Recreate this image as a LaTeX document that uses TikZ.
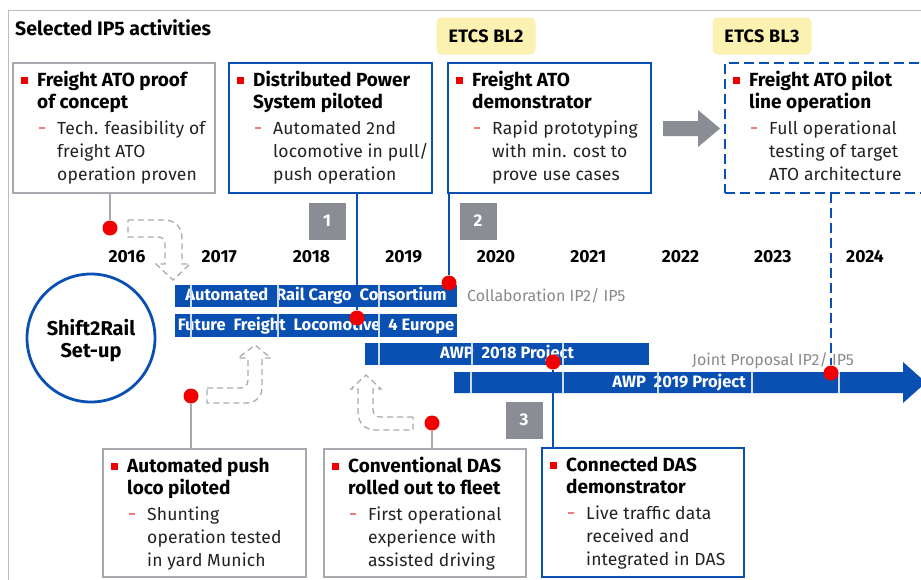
\documentclass[tikz,border=0pt]{standalone}
\usepackage{fontspec}
\setmainfont{Fira Sans}
\usetikzlibrary{calc}

\definecolor{dbblue}{HTML}{0A4FB2}
\definecolor{dotred}{HTML}{F00000}
\definecolor{framegray}{HTML}{B8BCC0}
\definecolor{boxgray}{HTML}{A6AAAE}
\definecolor{numgray}{HTML}{8A8E94}
\definecolor{etcsyellow}{HTML}{FBF1B0}
\definecolor{dashred}{HTML}{F27A7A}
\definecolor{labelgray}{HTML}{8A8A8A}
\definecolor{arrowgray}{HTML}{8A8E94}
\definecolor{ghostgray}{HTML}{A8ACB0}
\definecolor{bodyblack}{HTML}{222222}

\newcommand\fsz[1]{\fontsize{#1pt}{#1pt}\selectfont}

\tikzset{
  boxtitle/.style={anchor=west, inner sep=0pt, font=\fsz{19}\bfseries, text height=17pt, text depth=4pt},
  boxbody/.style={anchor=west, inner sep=0pt, font=\fsz{17.5}\addfontfeatures{LetterSpace=1}, text=bodyblack, text height=16pt, text depth=4pt},
  bulletsq/.style={fill=dotred, minimum size=7pt, inner sep=0pt},
  subdash/.style={draw=dashred, line width=1.3pt},
  actgray/.style={draw=boxgray, line width=1.3pt, fill=white, anchor=north west, inner sep=0pt, outer sep=0pt},
  actblue/.style={draw=dbblue, line width=2.8pt, fill=white, anchor=north west, inner sep=0pt, outer sep=0pt},
  actplan/.style={draw=dbblue, line width=2.8pt, dash pattern=on 10pt off 5pt, anchor=north west, inner sep=0pt, outer sep=0pt},
  reddot/.style={circle, fill=dotred, minimum size=15pt, inner sep=0pt},
  graylink/.style={draw=boxgray, line width=1.3pt},
  bluelink/.style={draw=dbblue, line width=2.5pt},
  planlink/.style={draw=dbblue, line width=2.8pt, dash pattern=on 10pt off 5pt},
  yearlbl/.style={font=\fsz{17.5}\bfseries, inner sep=0pt},
  numsq/.style={fill=numgray, minimum width=37pt, minimum height=37pt, inner sep=0pt, text=white, font=\fsz{17}\bfseries},
  etcs/.style={fill=etcsyellow, rounded corners=5pt, minimum width=99pt, minimum height=37pt, inner sep=0pt, font=\fsz{18}\bfseries\addfontfeatures{LetterSpace=2}},
  barfill/.style={fill=dbblue},
  bartext/.style={text=white, font=\fsz{16.5}\bfseries, inner sep=0pt},
  barsep/.style={draw=white!80!dbblue, line width=1.3pt},
  ghost/.style={draw=ghostgray, line width=1.3pt, dash pattern=on 6pt off 4pt},
  note/.style={text=labelgray, font=\fsz{16}, inner sep=0pt, anchor=west},
  s2rtext/.style={font=\fsz{20}\bfseries, inner sep=0pt},
}

% text block of an activity box: name, two title lines, three body lines
\newcommand\boxtext[6]{%
  \node[bulletsq] (#1-b) at ($(#1.north west)+(11,17)$) {};
  \node[boxtitle] (#1-t1) at ($(#1.north west)+(24,17)$) {#2};
  \node[boxtitle] (#1-t2) at ($(#1.north west)+(24,39)$) {#3};
  \draw[subdash] ($(#1.north west)+(26,65)$) -- ++(6,0);
  \node[boxbody] (#1-s1) at ($(#1.north west)+(44,65)$) {#4};
  \node[boxbody] (#1-s2) at ($(#1.north west)+(44,88)$) {#5};
  \node[boxbody] (#1-s3) at ($(#1.north west)+(44,111)$) {#6};
}

\begin{document}
\begin{tikzpicture}[x=1pt,y=-1pt]
\useasboundingbox (0,0) rectangle (921,579);
\clip (0,0) rectangle (921,579);
\fill[white] (0,0) rectangle (921,579);

% outer frame
\draw[framegray, line width=1pt] (8,590) -- (8,10) -- (930,10);
\node[anchor=west, font=\fsz{19.5}\bfseries, inner sep=0pt] (title) at (15,28) {Selected\ IP5 activities};

% ETCS labels
\node[etcs] (etcs2) at (486,36) {ETCS BL2};
\node[etcs] (etcs3) at (762,36) {ETCS BL3};

% activity boxes, top row
\node[actgray, minimum width=202pt, minimum height=130pt] (b1) at (13,63) {};
\node[actblue, minimum width=203pt, minimum height=130pt] (b2) at (229,63) {};
\node[actblue, minimum width=203pt, minimum height=130pt] (b3) at (448,63) {};
\node[actplan, minimum width=212pt, minimum height=130pt] (b4) at (725,63) {};
\boxtext{b1}{Freight ATO proof}{of concept}{Tech. feasibility of}{freight ATO}{operation proven}
\boxtext{b2}{Distributed Power}{System piloted}{Automated 2nd}{locomotive in pull/}{push operation}
\boxtext{b3}{Freight ATO}{demonstrator}{Rapid prototyping}{with min. cost to}{prove use cases}
\boxtext{b4}{Freight ATO pilot}{line operation}{Full operational}{testing of target}{ATO architecture}

% activity boxes, bottom row
\node[actgray, minimum width=203pt, minimum height=128pt] (b5) at (103,449) {};
\node[actgray, minimum width=202pt, minimum height=128pt] (b6) at (324,449) {};
\node[actblue, minimum width=202pt, minimum height=129pt] (b7) at (542,448) {};
\boxtext{b5}{Automated push}{loco piloted}{Shunting}{operation tested}{in yard Munich}
\boxtext{b6}{Conventional DAS}{rolled out to fleet}{First operational}{experience with}{assisted driving}
\boxtext{b7}{Connected DAS}{demonstrator}{Live traffic data}{received and}{integrated in DAS}

% transition arrow between demonstrator and pilot
\fill[arrowgray] (663,121) -- (698,121) -- (698,110) -- (720,128.5) -- (698,147) -- (698,136) -- (663,136) -- cycle;

% numbered markers
\node[numsq] (n1) at (327,221) {1};
\node[numsq] (n2) at (478,221) {2};
\node[numsq] (n3) at (524,420) {3};

% years
\foreach \yr [count=\i from 0] in {2016,...,2024}
  \node[yearlbl] (y\yr) at (127+\i*92.25,257) {\yr};

% Shift2Rail circle
\node[circle, draw=dbblue, line width=2.8pt, minimum size=128pt, inner sep=0pt] (s2r) at (91,338) {};
\node[s2rtext] (s2r-a) at (91,328) {Shift2Rail};
\node[s2rtext] (s2r-b) at (91,353) {Set-up};

% project bars
\path[barfill] (175,285) rectangle (457,307);
\node[bartext] (bar1) at (316,296) {Automated\ \ Rail Cargo\ \ Consortium};
\foreach \sx in {191,278,379} \draw[barsep] (\sx,285) -- (\sx,307);

\path[barfill] (175,314) rectangle (457,337);
\node[bartext] (bar2) at (316,325.5) {Future\ \ Freight\ \ Locomotive\ \ 4 Europe};
\foreach \sx in {191,278,379} \draw[barsep] (\sx,314) -- (\sx,337);

\path[barfill] (365,343) rectangle (649,365);
\node[bartext] (bar3) at (507,354) {AWP\ \ 2018 Project};
\foreach \sx in {379,472,563} \draw[barsep] (\sx,343) -- (\sx,365);

\path[barfill] (454,372) -- (903,372) -- (903,362) -- (926,382.5) -- (903,403) -- (903,393) -- (454,393) -- cycle;
\node[bartext] (bar4) at (679,382.5) {AWP\ \ 2019 Project};
\foreach \sx in {471,563,658,752,839} \draw[barsep] (\sx,372) -- (\sx,393);

\node[note] (collab) at (467,296) {Collaboration IP2/ IP5};
\node[note] (joint) at (692,361) {Joint Proposal IP2/ IP5};

% hand-over hints
\draw[ghost] (128,220) -- (164,220) .. controls (175,220) and (182,227) .. (182,238) -- (182,264) -- (190,264) -- (173,280) -- (156,264) -- (165,264) -- (165,244) .. controls (165,239) and (162,237) .. (158,237) -- (128,237) -- cycle;
\draw[ghost] (207,388) -- (240,388) .. controls (245,388) and (248,385) .. (248,380) -- (248,358) -- (238,358) -- (255,345) -- (271,358) -- (262,358) -- (262,388) .. controls (262,397) and (255,403) .. (246,403) -- (207,403) -- cycle;
\draw[ghost] (413,417) -- (380,417) .. controls (376,417) and (373,414) .. (373,410) -- (373,389) -- (381,389) -- (366,375) -- (351,389) -- (358,389) -- (358,412) .. controls (358,423) and (365,430) .. (376,430) -- (413,430) -- cycle;

% milestones
\node[reddot] (d1) at (110,228) {};
\node[reddot] (d2) at (357,318) {};
\node[reddot] (d3) at (449,283) {};
\node[reddot] (d4) at (831,373) {};
\node[reddot] (d5) at (553,362) {};
\node[reddot] (d6) at (191,396) {};
\node[reddot] (d7) at (432,423) {};

% connectors from boxes to milestones
\draw[graylink] (b1.south -| d1) -- (d1);
\draw[bluelink] (b2.south -| d2) -- (d2);
\draw[bluelink] (b3.south -| d3) -- (d3);
\draw[planlink] (b4.south -| d4) -- (d4);
\draw[bluelink] (d5) -- (d5 |- b7.north);
\draw[graylink] (d6) -- (d6 |- b5.north);
\draw[graylink] (d7) -- (d7 |- b6.north);
\end{tikzpicture}
\end{document}
